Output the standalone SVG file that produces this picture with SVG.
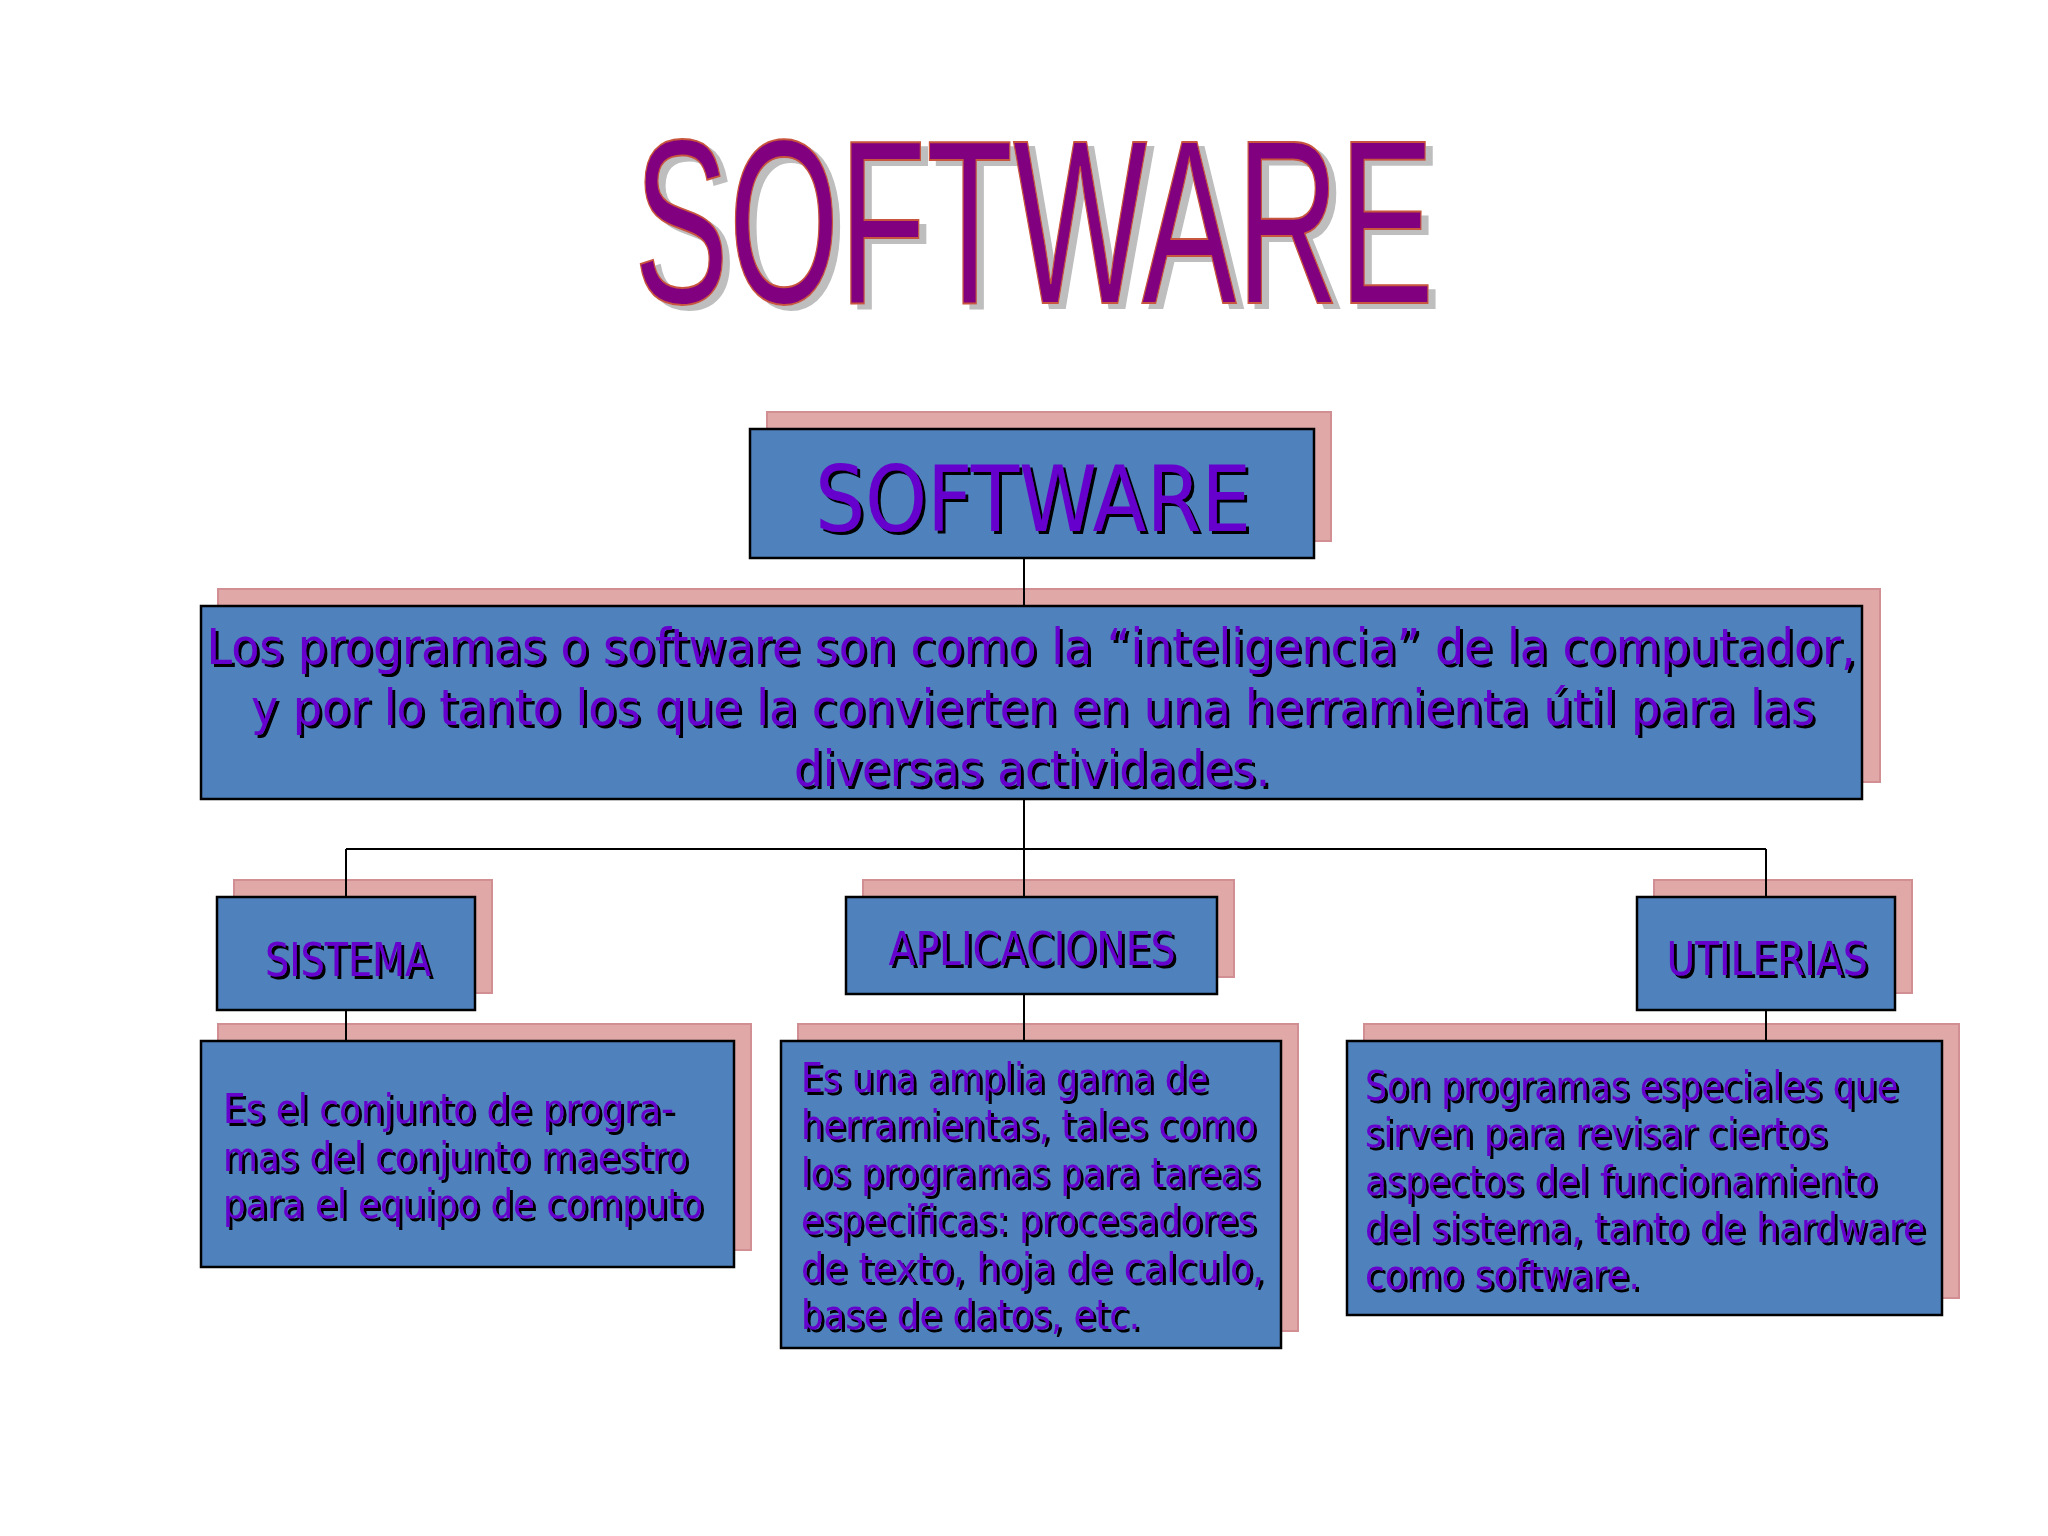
<svg xmlns="http://www.w3.org/2000/svg" width="2048" height="1536" viewBox="0 0 2048 1536">
<defs>
<filter id="ts" x="-5%" y="-20%" width="110%" height="140%"><feDropShadow dx="3" dy="3" stdDeviation="0" flood-color="#000" flood-opacity="1"/></filter>
<filter id="tt" x="-5%" y="-10%" width="110%" height="120%"><feDropShadow dx="7" dy="5" stdDeviation="0" flood-color="#BEBEBE" flood-opacity="1"/></filter>
</defs>
<style>
.sh{fill:#E1A8A8;stroke:#D28F93;stroke-width:2}
.bx{fill:#4F81BD;stroke:#000;stroke-width:2.5}
.t{font-family:"DejaVu Sans","Noto Sans",sans-serif;fill:#6600CC;filter:url(#ts)}
.c{stroke:#000;stroke-width:2;fill:none}
</style>
<rect width="2048" height="1536" fill="#fff"/>
<g id="title">
<text x="1034" y="303" text-anchor="middle" font-family="'Liberation Sans',sans-serif" font-size="234" fill="#800080" stroke="#C8553C" stroke-width="2" filter="url(#tt)" textLength="800" lengthAdjust="spacingAndGlyphs">SOFTWARE</text>
</g>
<g id="software">
<rect class="sh" x="767" y="412" width="564" height="129"/>
<rect class="bx" x="750" y="429" width="564" height="129"/>
<text class="t" x="1033" y="531" text-anchor="middle" font-size="90" textLength="436" lengthAdjust="spacingAndGlyphs">SOFTWARE</text>
</g>
<g id="definicion">
<rect class="sh" x="218" y="589" width="1662" height="193"/>
<rect class="bx" x="201" y="606" width="1661" height="193"/>
<text class="t" x="1031" y="664" text-anchor="middle" font-size="50" textLength="1649" lengthAdjust="spacingAndGlyphs">Los programas o software son como la “inteligencia” de la computador,</text>
<text class="t" x="1033" y="725" text-anchor="middle" font-size="50" textLength="1564" lengthAdjust="spacingAndGlyphs">y por lo tanto los que la convierten en una herramienta útil para las</text>
<text class="t" x="1032" y="786" text-anchor="middle" font-size="50" textLength="476" lengthAdjust="spacingAndGlyphs">diversas actividades.</text>
</g>
<g id="sistema">
<rect class="sh" x="234" y="880" width="258" height="113"/>
<rect class="bx" x="217" y="897" width="258" height="113"/>
<text class="t" x="348" y="976" text-anchor="middle" font-size="47" textLength="166" lengthAdjust="spacingAndGlyphs">SISTEMA</text>
</g>
<g id="aplicaciones">
<rect class="sh" x="863" y="880" width="371" height="97"/>
<rect class="bx" x="846" y="897" width="371" height="97"/>
<text class="t" x="1032" y="965" text-anchor="middle" font-size="47" textLength="287" lengthAdjust="spacingAndGlyphs">APLICACIONES</text>
</g>
<g id="utilerias">
<rect class="sh" x="1654" y="880" width="258" height="113"/>
<rect class="bx" x="1637" y="897" width="258" height="113"/>
<text class="t" x="1767" y="975" text-anchor="middle" font-size="47" textLength="201" lengthAdjust="spacingAndGlyphs">UTILERIAS</text>
</g>
<g id="sistema-desc">
<rect class="sh" x="218" y="1024" width="533" height="226"/>
<rect class="bx" x="201" y="1041" width="533" height="226"/>
<text class="t" x="223" y="1123" font-size="40" textLength="451" lengthAdjust="spacingAndGlyphs">Es el conjunto de progra-</text>
<text class="t" x="223" y="1171" font-size="40" textLength="465" lengthAdjust="spacingAndGlyphs">mas del conjunto maestro</text>
<text class="t" x="223" y="1218" font-size="40" textLength="480" lengthAdjust="spacingAndGlyphs">para el equipo de computo</text>
</g>
<g id="aplicaciones-desc">
<rect class="sh" x="798" y="1024" width="500" height="307"/>
<rect class="bx" x="781" y="1041" width="500" height="307"/>
<text class="t" x="801" y="1092" font-size="40" textLength="407" lengthAdjust="spacingAndGlyphs">Es una amplia gama de</text>
<text class="t" x="801" y="1139" font-size="40" textLength="455" lengthAdjust="spacingAndGlyphs">herramientas, tales como</text>
<text class="t" x="801" y="1187" font-size="40" textLength="459" lengthAdjust="spacingAndGlyphs">los programas para tareas</text>
<text class="t" x="801" y="1234" font-size="40" textLength="455" lengthAdjust="spacingAndGlyphs">especificas: procesadores</text>
<text class="t" x="801" y="1282" font-size="40" textLength="463" lengthAdjust="spacingAndGlyphs">de texto, hoja de calculo,</text>
<text class="t" x="801" y="1329" font-size="40" textLength="339" lengthAdjust="spacingAndGlyphs">base de datos, etc.</text>
</g>
<g id="utilerias-desc">
<rect class="sh" x="1364" y="1024" width="595" height="274"/>
<rect class="bx" x="1347" y="1041" width="595" height="274"/>
<text class="t" x="1365" y="1100" font-size="40" textLength="533" lengthAdjust="spacingAndGlyphs">Son programas especiales que</text>
<text class="t" x="1365" y="1147" font-size="40" textLength="462" lengthAdjust="spacingAndGlyphs">sirven para revisar ciertos</text>
<text class="t" x="1365" y="1195" font-size="40" textLength="512" lengthAdjust="spacingAndGlyphs">aspectos del funcionamiento</text>
<text class="t" x="1365" y="1242" font-size="40" textLength="560" lengthAdjust="spacingAndGlyphs">del sistema, tanto de hardware</text>
<text class="t" x="1365" y="1289" font-size="40" textLength="275" lengthAdjust="spacingAndGlyphs">como software.</text>
</g>
<g id="connectors">
<path class="c" d="M1024 558V606M1024 799V849M346 849H1766M346 849V897M1024 849V897M1766 849V897M346 1010V1041M1024 994V1041M1766 1010V1041"/>
</g>
</svg>
